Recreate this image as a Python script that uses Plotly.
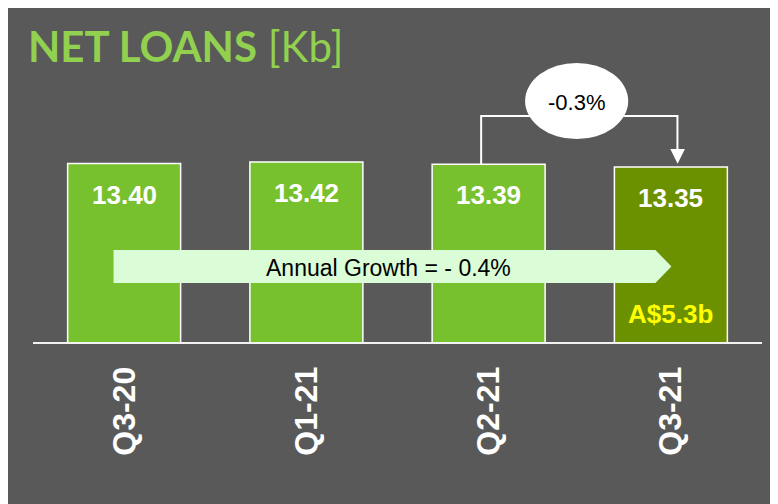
import plotly.graph_objects as go

categories = ["Q3-20", "Q1-21", "Q2-21", "Q3-21"]
net_loans = [13.40, 13.42, 13.39, 13.35]
value_labels = ["13.40", "13.42", "13.39", "13.35"]
bar_colors = ["#76C12D", "#76C12D", "#76C12D", "#6B9100"]
annual_growth_text = "Annual Growth = - 0.4%"
qoq_text = "-0.3%"
size_text = "A$5.3b"

W, H = 778, 504
OFF = 8  # page body margin
# plot area in window pixels: x 33..762, y 10..342
L = 33 - OFF
R = W - (762 - OFF)
T = 10 - OFF
B = H - (342 - OFF)
Y0, Y1 = 10.9, 15.55
BG = "#595959"
SANS = "Liberation Sans, Arial"
xs = list(range(len(categories)))

fig = go.Figure()
fig.add_trace(go.Bar(
    x=xs, y=net_loans, width=0.62,
    marker=dict(color=bar_colors, line=dict(color="white", width=1.5)),
    hoverinfo="skip",
))

pw = W - L - R
ph = H - T - B
def px_x(p):  # window pixel -> paper
    return (p - OFF - L) / pw
def px_y(p):
    return (H - B - (p - OFF)) / ph

shapes = []
# Annual growth arrow
ay0, ay1, aym = 11.726, 12.189, 11.957
shapes.append(dict(type="path", xref="x", yref="y",
                   path=f"M -0.058,{ay0} L -0.058,{ay1} L 2.915,{ay1} L 3.003,{aym} L 2.915,{ay0} Z",
                   fillcolor="#DAFCD6", line=dict(width=0)))

# connector from Q2-21 to Q3-21
ytop = 14.065
shapes.append(dict(type="path", xref="x", yref="y",
                   path=f"M 1.959,{net_loans[2]} L 1.959,{ytop} L 3.036,{ytop} L 3.036,13.60",
                   line=dict(color="white", width=2)))
shapes.append(dict(type="path", xref="x", yref="y",
                   path=f"M 2.997,13.603 L 3.077,13.603 L 3.037,{net_loans[3] + 0.045} Z",
                   fillcolor="white", line=dict(width=0)))
# ellipse
shapes.append(dict(type="circle", xref="x", yref="y", x0=2.2, x1=2.766, y0=13.743, y1=14.808,
                   fillcolor="white", line=dict(width=0)))

annotations = []
annotations.append(dict(xref="paper", yref="paper", x=px_x(26), y=px_y(46), xanchor="left",
                        yanchor="middle", showarrow=False,
                        text="<b>NET LOANS</b> [Kb]",
                        font=dict(family="Lato, Open Sans", size=42, color="#92D050")))
for i, (v, t) in enumerate(zip(net_loans, value_labels)):
    annotations.append(dict(x=i, y=v, yshift=-31, showarrow=False, text=f"<b>{t}</b>",
                            font=dict(family=SANS, size=26, color="white")))
annotations.append(dict(x=3, y=Y0, yshift=28.5, showarrow=False, text=f"<b>{size_text}</b>",
                        font=dict(family=SANS, size=26, color="#FFFF00")))
annotations.append(dict(x=1.45, y=aym, yshift=-1, showarrow=False, text=annual_growth_text,
                        font=dict(family=SANS, size=23, color="black")))
annotations.append(dict(x=2.483, y=14.26, showarrow=False, text=qoq_text,
                        font=dict(family=SANS, size=22, color="black")))

fig.update_layout(
    width=W, height=H, margin=dict(l=L, r=R, t=T, b=B),
    paper_bgcolor=BG, plot_bgcolor=BG, showlegend=False,
    shapes=shapes, annotations=annotations,
    xaxis=dict(range=[-0.5, 3.5], tickvals=xs, ticktext=[f"<b>{c}</b>" for c in categories],
               tickangle=-90, tickfont=dict(family=SANS, size=32, color="white"),
               showgrid=False, zeroline=False, showline=True, linecolor="#F2F2F2", linewidth=2,
               ticks="", ticklabelstandoff=10, fixedrange=True),
    yaxis=dict(range=[Y0, Y1], visible=False, showgrid=False, zeroline=False, fixedrange=True),
)

fig.write_html("out.html")
